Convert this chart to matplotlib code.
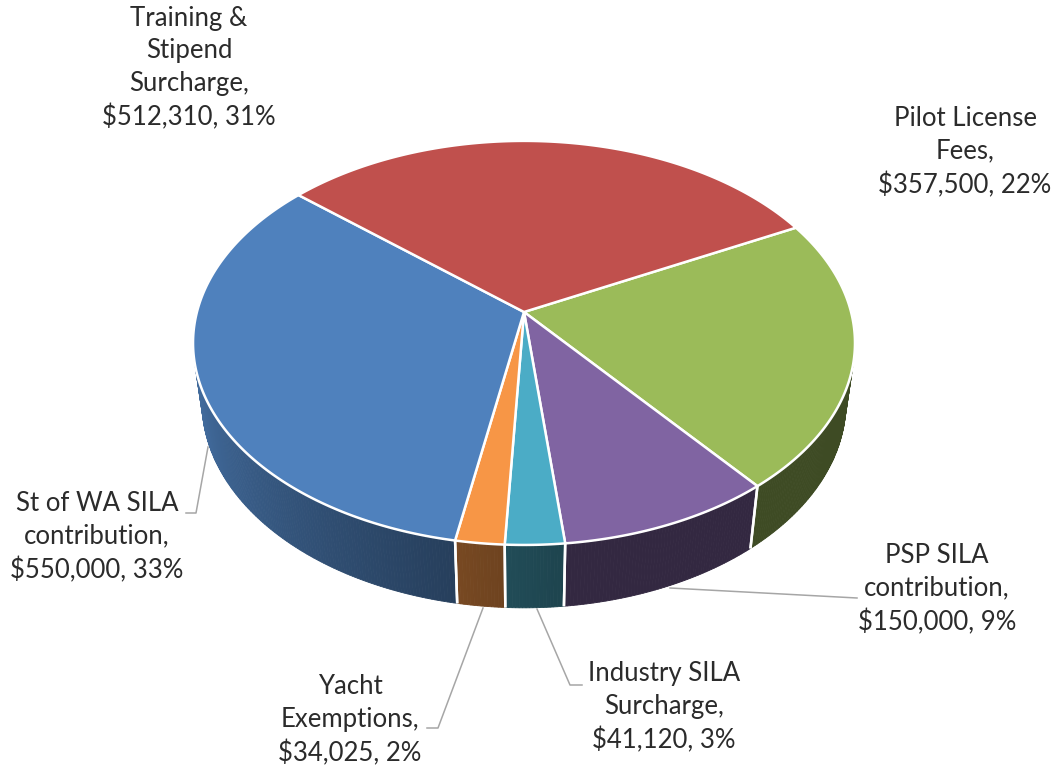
import numpy as np
import matplotlib
matplotlib.use('Agg')
import matplotlib.pyplot as plt
from matplotlib.patches import Polygon

# ---------------- data ----------------
categories = ["Pilot License\nFees,", "PSP SILA\ncontribution,", "Industry SILA\nSurcharge,",
              "Yacht\nExemptions,", "St of WA SILA\ncontribution,", "Training &\nStipend\nSurcharge,"]
values = [357500, 150000, 41120, 34025, 550000, 512310]
pct_labels = [22, 9, 3, 2, 33, 31]
top_colors = ['#9bbb59', '#8064a2', '#4bacc6', '#f79646', '#4f81bd', '#c0504d']

# ---------------- layout (pixels) ----------------
W, Hpx = 1059, 765
label_pos = [(965, 152), (937, 589), (664, 707), (350, 720), (97, 537), (189, 68)]
leaders = [None,
           [(670, 588), (857, 598)],
           [(537, 609), (570, 685), (582, 685)],
           [(483, 608), (438, 728), (427, 728)],
           [(208, 447), (196, 513), (186, 513)],
           None]

# 3D projection parameters
ELEV = np.radians(37.1)
DIST = 5.21
FOC = 1704.0
THICK = 0.235
CX, CY = 524.0, 312.0
START = 27.2  # degrees, slices go clockwise

def proj(X, Y, Z):
    D = DIST + Y * np.cos(ELEV) - Z * np.sin(ELEV)
    sx = FOC * X / D
    sy = FOC * (Y * np.sin(ELEV) + Z * np.cos(ELEV)) / D
    return CX + sx, CY - sy

def rim(t_deg, z):
    t = np.radians(t_deg)
    return proj(np.cos(t), np.sin(t), z)

def shade(hexc, f):
    c = np.array(matplotlib.colors.to_rgb(hexc))
    return tuple(np.clip(c * f, 0, 1))

def side_factor(t):
    return 0.40 + 0.42 * np.clip((-85.0 - t) / 75.0, 0, 1)

fig = plt.figure(figsize=(W / 100, Hpx / 100), dpi=100)
ax = fig.add_axes([0, 0, 1, 1])
ax.set_xlim(0, W)
ax.set_ylim(Hpx, 0)
ax.axis('off')

total = float(sum(values))
fracs = np.array(values) / total
cum = np.concatenate([[0], np.cumsum(fracs)])
t0s = START - cum[:-1] * 360
t1s = START - cum[1:] * 360

# front-facing range of the side wall
lim = np.degrees(np.arcsin(1.0 / (DIST * np.cos(ELEV))))
front_lo, front_hi = -180 + lim, -lim

# side walls
for i in range(len(values)):
    a, b = t1s[i], t0s[i]  # a < b
    lo, hi = max(a, front_lo), min(b, front_hi)
    if lo >= hi:
        continue
    ts = np.linspace(lo, hi, max(2, int((hi - lo) / 0.5) + 1))
    for k in range(len(ts) - 1):
        ta, tb = ts[k], ts[k + 1]
        p1 = rim(ta, 0); p2 = rim(tb, 0); p3 = rim(tb, -THICK); p4 = rim(ta, -THICK)
        col = shade(top_colors[i], side_factor(0.5 * (ta + tb)))
        ax.add_patch(Polygon([p1, p2, p3, p4], closed=True, facecolor=col,
                             edgecolor=col, lw=0.6, zorder=2))
    # white separators at wedge boundaries on the wall
    for tb in (a, b):
        if front_lo < tb < front_hi:
            xa, ya = rim(tb, 0); xb, yb = rim(tb, -THICK)
            ax.plot([xa, xb], [ya, yb], color='white', lw=1.8, zorder=3,
                    solid_capstyle='butt')

# top faces
for i in range(len(values)):
    ts = np.linspace(t0s[i], t1s[i], max(3, int(abs(t0s[i] - t1s[i]) / 0.5) + 1))
    pts = [proj(0, 0, 0)] + [rim(t, 0) for t in ts]
    ax.add_patch(Polygon(pts, closed=True, facecolor=top_colors[i], edgecolor='white',
                         lw=1.8, joinstyle='round', zorder=4))

# labels
for i in range(len(values)):
    txt = f"{categories[i]}\n${values[i]:,}, {pct_labels[i]}%"
    x, y = label_pos[i]
    ax.text(x, y, txt, ha='center', va='center', fontsize=18.5, family='Lato',
            color='#2b2b2b', linespacing=1.38, zorder=6)
    if leaders[i] is not None:
        xs, ys = zip(*leaders[i])
        ax.plot(xs, ys, color='#a6a6a6', lw=1.1, zorder=5)

fig.savefig('out.png', dpi=100, facecolor='white')
